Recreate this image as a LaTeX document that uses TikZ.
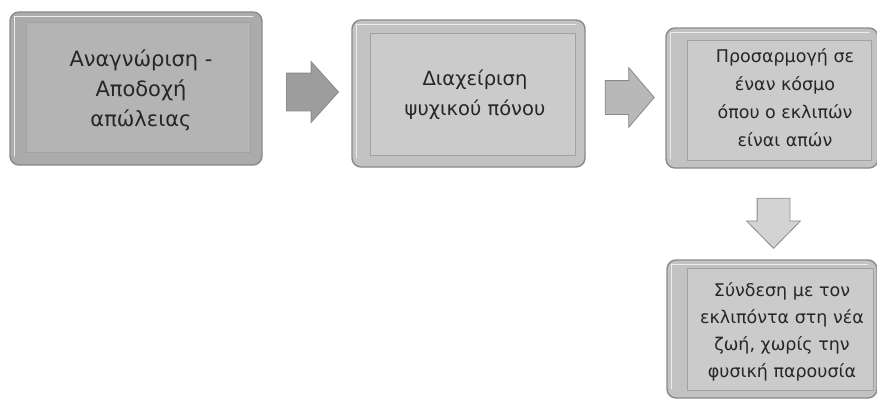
\documentclass[tikz,border=0pt]{standalone}
\usepackage{fontspec}
\setmainfont{DejaVu Sans}
\usetikzlibrary{shapes.arrows,calc}
\definecolor{darkfill}{HTML}{ABABAB}
\definecolor{darkpanel}{HTML}{B4B4B4}
\definecolor{lightfill}{HTML}{C2C2C2}
\definecolor{lightpanel}{HTML}{CBCBCB}
\definecolor{edge}{HTML}{8A8A8A}
\definecolor{txtcol}{HTML}{262626}
\tikzset{
  outerbox/.style={draw=edge, line width=1.4pt, rounded corners=9pt, inner sep=0pt},
  panel/.style={draw=edge!80, line width=0.6pt},
  bevel/.style={draw=white!85!gray, line width=1.6pt, line cap=round},
  boxtext/.style={text=txtcol, align=center, inner sep=0pt},
  blockarrow/.style={single arrow, draw=edge, line width=0.8pt, inner xsep=0pt, single arrow head indent=0pt}
}
\begin{document}
\begin{tikzpicture}[x=1pt,y=-1pt]
\useasboundingbox (0,0) rectangle (877,399);
% box 1
\node[outerbox, fill=darkfill, minimum width=252pt, minimum height=153pt] (b1) at (136,88.5) {};
\draw[bevel] ($(b1.south west)+(5,-10)$) -- ($(b1.north west)+(5,5)$) -- ($(b1.north east)+(-10,5)$);
\fill[panel, fill=darkpanel] (26,22) rectangle (250,152);
\node[boxtext, font=\fontsize{21}{30}\selectfont] (t1) at (141,90) {Αναγνώριση -\\Αποδοχή\\απώλειας};
% box 2
\node[outerbox, fill=lightfill, minimum width=233pt, minimum height=147pt] (b2) at (468.5,93.5) {};
\draw[bevel] ($(b2.south west)+(5,-10)$) -- ($(b2.north west)+(5,5)$) -- ($(b2.north east)+(-10,5)$);
\fill[panel, fill=lightpanel] (370,33) rectangle (575,155);
\node[boxtext, font=\fontsize{19.5}{30}\selectfont] (t2) at (475,95) {Διαχείριση\\ψυχικού πόνου};
% box 3
\node[outerbox, fill=lightfill, minimum width=212pt, minimum height=140pt] (b3) at (772,98) {};
\draw[bevel] ($(b3.south west)+(5,-10)$) -- ($(b3.north west)+(5,5)$) -- ($(b3.north east)+(-10,5)$);
\fill[panel, fill=lightpanel] (687,40) rectangle (871,160);
\node[boxtext, font=\fontsize{17.5}{28}\selectfont] (t3) at (785,98) {Προσαρμογή σε\\έναν κόσμο\\όπου ο εκλιπών\\είναι απών};
% box 4
\node[outerbox, fill=lightfill, minimum width=210pt, minimum height=138pt] (b4) at (772,329) {};
\draw[bevel] ($(b4.south west)+(5,-10)$) -- ($(b4.north west)+(5,5)$) -- ($(b4.north east)+(-10,5)$);
\fill[panel, fill=lightpanel] (687,268) rectangle (873,390);
\node[boxtext, font=\fontsize{17.5}{27}\selectfont] (t4) at (782,332) {Σύνδεση με τον\\εκλιπόντα στη νέα\\ζωή, χωρίς την\\φυσική παρουσία};
% arrows
\node[blockarrow, fill=darkfill!92!black, minimum height=52pt, inner ysep=18.5pt,
      single arrow head extend=11.5pt, single arrow tip angle=96] (a1) at (304,92) {};
\node[blockarrow, fill=lightfill!95!black, minimum height=49pt, inner ysep=16.5pt,
      single arrow head extend=13pt, single arrow tip angle=99] (a2) at (622.5,97.5) {};
\node[blockarrow, fill=lightpanel!85!white, minimum height=50pt, inner ysep=16pt,
      single arrow head extend=10.5pt, single arrow tip angle=89, rotate=-90] (a3) at (773.5,215) {};
\end{tikzpicture}
\end{document}
